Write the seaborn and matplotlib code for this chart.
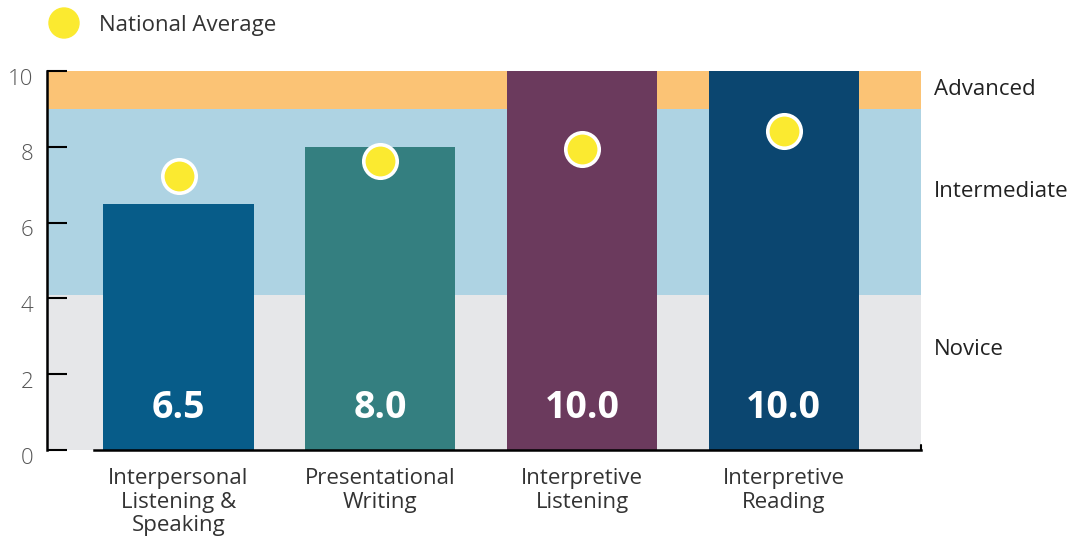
import matplotlib
matplotlib.use("Agg")
import matplotlib.pyplot as plt
import matplotlib.transforms as mtransforms
from matplotlib.patches import Ellipse
import seaborn as sns
import pandas as pd

# ---- data ----
categories = ["Interpersonal\nListening &\nSpeaking", "Presentational\nWriting",
              "Interpretive\nListening", "Interpretive\nReading"]
scores = [6.5, 8.0, 10.0, 10.0]
national_avg = [7.23, 7.63, 7.94, 8.42]
bar_colors = ["#075C89", "#347F80", "#6B3A5D", "#0B4670"]
band_names = ["Novice", "Intermediate", "Advanced"]
band_lower = [0.0, 4.1, 9.0]
band_upper = [4.1, 9.0, 10.0]
band_colors = ["#E6E7E9", "#AED3E3", "#FBC375"]
yticks = [0, 2, 4, 6, 8, 10]

sns.set_style("white")
plt.rcParams["font.family"] = ["Open Sans", "DejaVu Sans"]

df = pd.DataFrame({"category": categories, "score": scores, "avg": national_avg})

fig = plt.figure(figsize=(10.7, 5.38), dpi=100)
ax = fig.add_axes([47 / 1070, 1 - 450 / 538, (921 - 47) / 1070, (450 - 71) / 538])

for lo, hi, c in zip(band_lower, band_upper, band_colors):
    ax.axhspan(lo, hi, color=c, zorder=0, lw=0)

sns.barplot(data=df, x="category", y="score", hue="category", palette=bar_colors,
            width=0.744, saturation=1, legend=False, ax=ax, zorder=2,
            linewidth=0, edgecolor="none")

sns.scatterplot(data=df, x="category", y="avg", s=580, color="#FBEA30",
                edgecolor="white", linewidth=2.6, ax=ax, zorder=4, legend=False)

for i, v in enumerate(scores):
    ax.text(i, 1.1, f"{v:.1f}", ha="center", va="center", color="white",
            fontsize=27, fontweight="bold", zorder=5)

ax.set_xlim(-0.652, 3.68)
ax.set_ylim(0, 10)
ax.set_yticks(yticks)
ax.set_xlabel("")
ax.set_ylabel("")

ax.tick_params(axis="y", left=True, direction="in", length=14.5, width=1.5,
               color="black", labelsize=16, labelcolor="#555555", pad=10)
ax.tick_params(axis="x", bottom=False, length=0, labelsize=16, labelcolor="#333333", pad=13)
offset = mtransforms.ScaledTranslation(0, -4 / 72, fig.dpi_scale_trans)
for lbl in ax.get_yticklabels():
    lbl.set_fontweight("light")
    lbl.set_transform(lbl.get_transform() + offset)
for lbl in ax.get_xticklabels():
    lbl.set_linespacing(1.17)

for s in ["top", "right"]:
    ax.spines[s].set_visible(False)
for s in ["left", "bottom"]:
    ax.spines[s].set_linewidth(1.8)
    ax.spines[s].set_color("black")
    ax.spines[s].set_zorder(6)
ax.spines["bottom"].set_bounds(-0.42, 3.68)
ax.plot([3.68, 3.68], [0, 0.12], color="black", lw=1.5, zorder=6, clip_on=False)

# band labels on the right
label_y = [2.64, 6.81, 9.50]
for name, y in zip(band_names, label_y):
    ax.text(1 + 13 / 874, y, name, transform=ax.get_yaxis_transform(),
            ha="left", va="center", fontsize=16, color="#222222")

# legend
fig.add_artist(Ellipse((64 / 1070, 1 - 23 / 538), 30 / 1070, 30 / 538,
                       color="#FBEA30", transform=fig.transFigure))
fig.text(99 / 1070, 1 - 25 / 538, "National Average", ha="left", va="center",
         fontsize=16, color="#333333")

fig.savefig("out.png", dpi=100)
